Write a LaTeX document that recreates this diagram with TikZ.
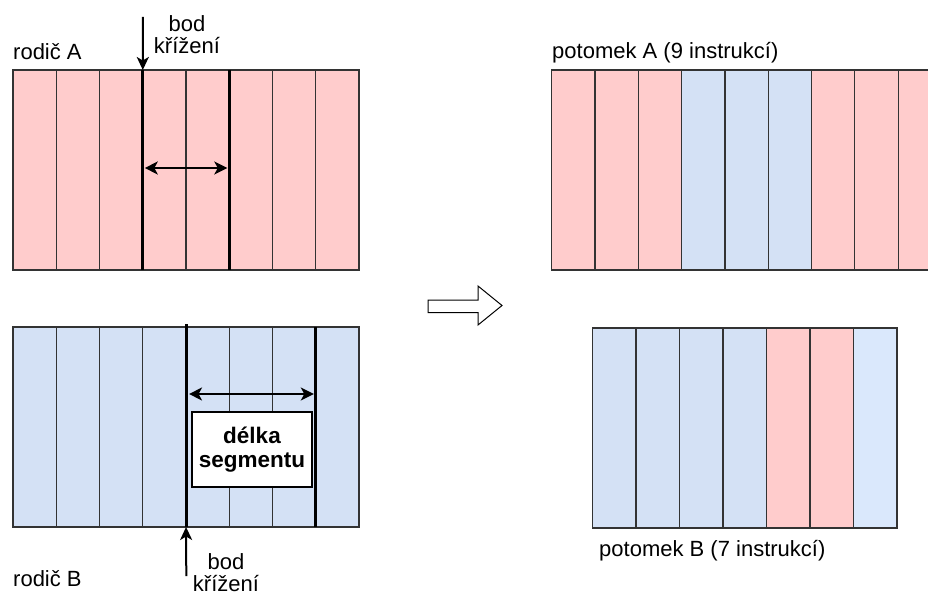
\documentclass[tikz,border=0pt]{standalone}
\usepackage{fontspec}
\setmainfont{Liberation Sans}
\usetikzlibrary{arrows.meta}
\definecolor{geneA}{HTML}{FFCCCC}
\definecolor{geneB}{HTML}{D4E1F5}
\definecolor{geneBlight}{HTML}{DAE8FC}
\definecolor{edge}{HTML}{333333}
\begin{document}
\begin{tikzpicture}[x=1pt,y=-1pt,
  cell/.style={draw=edge, line width=1.2pt, minimum width=43.3pt, minimum height=200pt,
    inner sep=0pt, outer sep=0pt, anchor=north west},
  cut/.style={line width=3pt, black},
  span/.style={line width=2pt, {Stealth[length=13pt,width=13pt,inset=3.5pt]}-{Stealth[length=13pt,width=13pt,inset=3.5pt]}},
  pointer/.style={line width=2pt, -{Stealth[length=13pt,width=12pt,inset=3.5pt]}},
  label/.style={font=\fontsize{22}{22.5}\selectfont, inner sep=0pt},
  note/.style={font=\fontsize{22.5}{24}\selectfont\bfseries, align=center, draw=black, fill=white,
    line width=1.2pt, minimum width=120pt, minimum height=75pt, inner sep=0pt}]
\useasboundingbox (0,0) rectangle (928,596);
\clip (0,0) rectangle (928,596);

% parent A
\foreach \i in {1,...,8}
  \node[cell, fill=geneA] (a\i) at ({13+(\i-1)*43.25}, 70) {};
% parent B
\foreach \i in {1,...,8}
  \node[cell, fill=geneB] (b\i) at ({13+(\i-1)*43.25}, 327) {};
% offspring A
\foreach \i/\c in {1/geneA,2/geneA,3/geneA,4/geneB,5/geneB,6/geneB,7/geneA,8/geneA,9/geneA}
  \node[cell, fill=\c] (oa\i) at ({551.7+(\i-1)*43.3}, 70) {};
% offspring B
\foreach \i/\c in {1/geneB,2/geneB,3/geneB,4/geneB,5/geneA,6/geneA,7/geneBlight}
  \node[cell, fill=\c, minimum width=43.5pt] (ob\i) at ({592.5+(\i-1)*43.5}, 328) {};

% crossover points
\draw[cut] (a3.north east) -- (a3.south east);
\draw[cut] (a5.north east) -- (a5.south east);
\draw[cut] ([yshift=3pt]b4.north east) -- (b4.south east);
\draw[cut] (b7.north east) -- (b7.south east);

% segment lengths
\draw[span] ([shift={(2,98)}]a3.north east) -- ([shift={(-2,98)}]a5.north east);
\draw[span] ([shift={(3,67)}]b4.north east) -- ([shift={(-2,67)}]b7.north east);
\node[note] (len) at (252,449.5) {délka\\segmentu};

% crossover markers
\coordinate (pA) at (142.8,17);
\draw[pointer] (pA) -- (a3.north east);
\node[label, align=center, anchor=base] (bodA) at (187,54) {bod\\křížení};
\coordinate (pB) at (186.3,576);
\draw[pointer] (pB) -- (b4.south east);
\node[label, align=center, anchor=base] (bodB) at (226,591.5) {bod\\křížení};

% captions
\node[label, anchor=base west] (ra) at (13,60) {rodič A};
\node[label, anchor=base west] (rb) at (13,586) {rodič B};
\node[label, anchor=base west] (pa) at (552,58.5) {potomek A (9 instrukcí)};
\node[label, anchor=base west] (pb) at (599,556.7) {potomek B (7 instrukcí)};

% result arrow
\draw[line width=1pt, fill=white, line join=miter]
  (428,300) -- (478,300) -- (478,286) -- (502,305.5) -- (478,325) -- (478,312.7) -- (428,312.7) -- cycle;
\end{tikzpicture}
\end{document}
